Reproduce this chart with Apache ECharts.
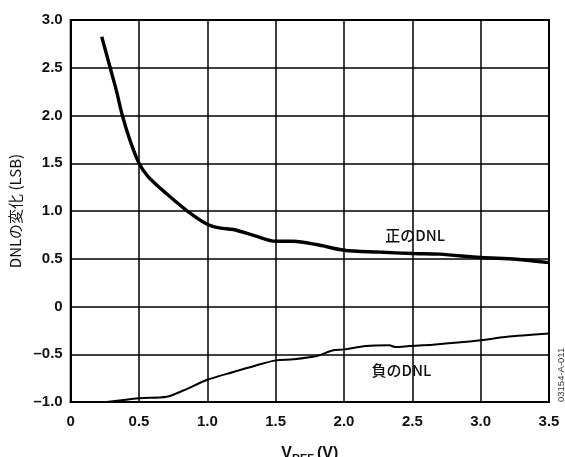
<!DOCTYPE html>
<html>
<head>
<meta charset="utf-8">
<script src="https://cdn.jsdelivr.net/npm/echarts@6/dist/echarts.min.js"></script>
<style>html,body{margin:0;padding:0;background:#fff;}#c{width:565px;height:457px;}</style>
</head>
<body>
<div id="c"></div>
<script>
// Data
var posDNL = [
  [0.227, 2.825], [0.287, 2.51], [0.336, 2.25], [0.378, 2.0], [0.434, 1.74],
  [0.50, 1.50], [0.568, 1.357], [0.702, 1.18], [0.849, 1.005], [0.995, 0.865],
  [1.09, 0.823], [1.19, 0.806], [1.35, 0.74], [1.50, 0.683], [1.63, 0.683],
  [1.80, 0.649], [2.0, 0.589], [2.25, 0.57], [2.5, 0.555], [2.70, 0.548],
  [3.0, 0.513], [3.26, 0.495], [3.5, 0.46]
];
var negDNL = [
  [0.263, -1.0], [0.5, -0.96], [0.702, -0.945], [0.824, -0.88], [0.995, -0.77],
  [1.19, -0.686], [1.35, -0.62], [1.5, -0.564], [1.63, -0.553], [1.80, -0.519],
  [1.92, -0.459], [2.0, -0.449], [2.16, -0.414], [2.33, -0.407], [2.38, -0.425],
  [2.48, -0.414], [2.65, -0.40], [3.0, -0.354], [3.18, -0.32], [3.5, -0.284]
];
var xTicks = [0, 0.5, 1.0, 1.5, 2.0, 2.5, 3.0, 3.5];
var yTicks = [-1.0, -0.5, 0, 0.5, 1.0, 1.5, 2.0, 2.5, 3.0];
var seriesLabels = ['正のDNL', '負のDNL'];
var labelPos = [[2.52, 0.746], [2.42, -0.669]];
var yAxisTitle = 'DNLの変化 (LSB)';
var noteText = '03154-A-011';

function fmt(v) {
  if (Math.abs(v) < 1e-9) return '0';
  var s = Math.abs(v).toFixed(1);
  return (v < 0 ? '\u2013' : '') + s;
}

var chart = echarts.init(document.getElementById('c'), null, {renderer: 'canvas'});
var labelFont = 'Liberation Sans, Arial, Helvetica, sans-serif';
var cjkFont = 'Noto Sans CJK JP, Liberation Sans, sans-serif';

chart.setOption({
  animation: false,
  backgroundColor: '#fff',
  grid: {left: 70.7, right: 16, top: 20, bottom: 55, show: true, borderColor: '#000', borderWidth: 2,
         backgroundColor: 'transparent', containLabel: false, outerBoundsMode: 'none'},
  xAxis: {
    type: 'value', min: xTicks[0], max: xTicks[xTicks.length - 1], interval: 0.5,
    axisLine: {show: true, onZero: false, lineStyle: {color: '#000', width: 2}},
    axisTick: {show: false},
    splitLine: {show: true, lineStyle: {color: '#000', width: 1.5}},
    axisLabel: {formatter: fmt, color: '#111', fontSize: 15, fontWeight: 'bold', fontFamily: labelFont, margin: 12},
    name: '{v|V}{s|REF}{v|(V)}',
    nameLocation: 'middle', nameGap: 42,
    nameTextStyle: {
      rich: {
        v: {fontSize: 16, fontWeight: 'bold', fontFamily: labelFont, color: '#111'},
        s: {fontSize: 11, fontWeight: 'bold', fontFamily: labelFont, color: '#111', padding: [9, 3, 0, 0]}
      }
    }
  },
  yAxis: {
    type: 'value', min: yTicks[0], max: yTicks[yTicks.length - 1], interval: 0.5,
    axisLine: {show: true, onZero: false, lineStyle: {color: '#000', width: 2}},
    axisTick: {show: false},
    splitLine: {show: true, lineStyle: {color: '#000', width: 1.5}},
    axisLabel: {formatter: fmt, color: '#111', fontSize: 15, fontWeight: 'bold', fontFamily: labelFont, margin: 8},
    name: yAxisTitle, nameLocation: 'middle', nameGap: 48, nameRotate: 90,
    nameTextStyle: {fontSize: 15, fontFamily: cjkFont, color: '#111'}
  },
  series: [
    {
      type: 'line', data: posDNL, smooth: 0.3, showSymbol: false,
      lineStyle: {color: '#000', width: 3.4},
      markPoint: {
        symbol: 'circle', symbolSize: 1, itemStyle: {opacity: 0},
        label: {show: true, position: 'inside', formatter: seriesLabels[0], fontSize: 15, fontWeight: 500, fontFamily: cjkFont, color: '#111', opacity: 1},
        data: [{coord: labelPos[0]}]
      }
    },
    {
      type: 'line', data: negDNL, smooth: 0.3, showSymbol: false,
      lineStyle: {color: '#000', width: 2},
      markPoint: {
        symbol: 'circle', symbolSize: 1, itemStyle: {opacity: 0},
        label: {show: true, position: 'inside', formatter: seriesLabels[1], fontSize: 15, fontWeight: 500, fontFamily: cjkFont, color: '#111', opacity: 1},
        data: [{coord: labelPos[1]}]
      }
    }
  ],
  graphic: [{
    type: 'text', x: 556, y: 402, rotation: Math.PI / 2,
    style: {text: noteText, fontSize: 9.5, fontFamily: labelFont, fill: '#333'}
  }]
});
</script>
</body>
</html>
